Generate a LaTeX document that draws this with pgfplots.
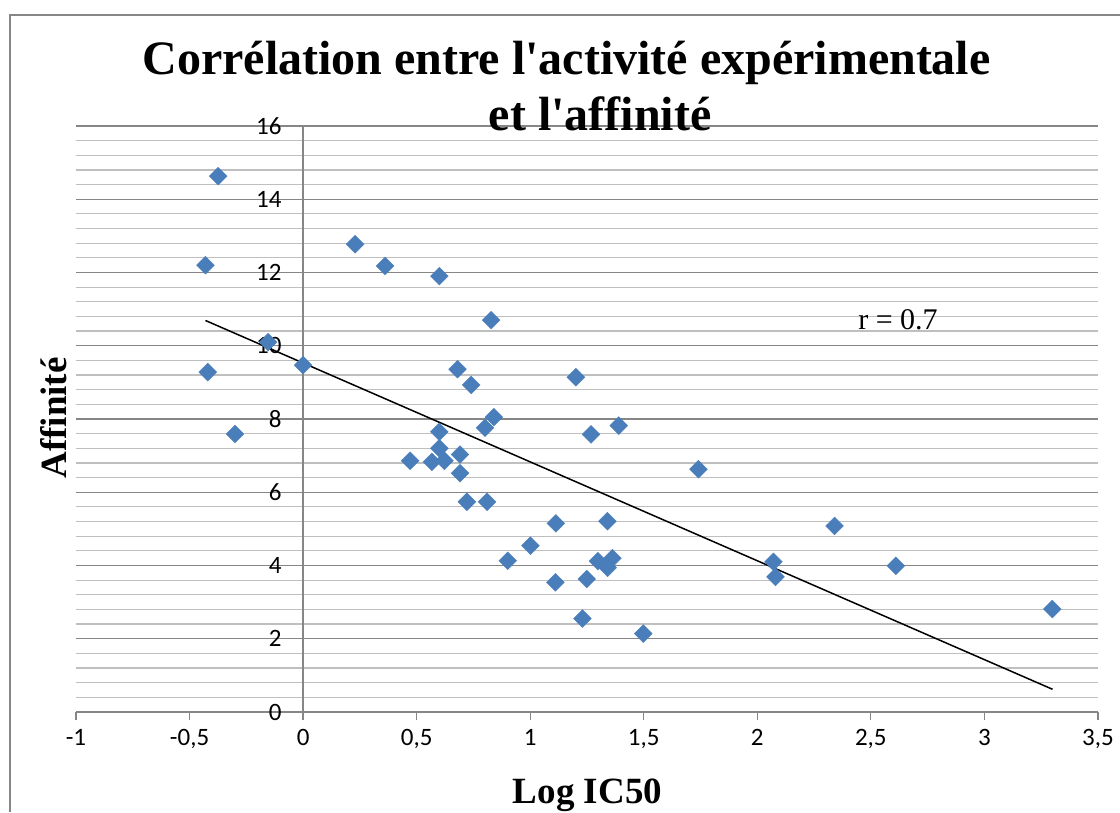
\documentclass[border=0pt]{standalone}
\usepackage{pgfplots}
\pgfplotsset{compat=1.18}
\usepackage{fontspec}
\setmainfont{Carlito}
\newfontfamily\tnr{Liberation Serif}
\definecolor{ptblue}{RGB}{74,126,187}
\definecolor{majg}{RGB}{134,134,134}
\definecolor{ming}{RGB}{191,191,191}
\newcommand{\tickfont}{\fontsize{25}{30}\selectfont}
\begin{document}
\begin{tikzpicture}
\useasboundingbox (0pt,0pt) rectangle (1120pt,812pt);
\draw[majg, line width=1.2pt] (10pt,0pt) -- (10pt,797pt) -- (1120pt,797pt);
\begin{axis}[
  at={(76pt,100pt)}, anchor=south west,
  scale only axis, width=1022pt, height=586pt,
  xmin=-1, xmax=3.5, ymin=0, ymax=16,
  axis lines=middle,
  axis line style={-, majg, line width=1.2pt},
  hide obscured x ticks=false, hide obscured y ticks=false,
  xtick={-1,-0.5,0,0.5,1,1.5,2,2.5,3,3.5},
  xticklabels={{-1},{-0,5},{0},{0,5},{1},{1,5},{2},{2,5},{3},{3,5}},
  ytick={0,2,4,6,8,10,12,14,16},
  yticklabels={0,2,4,6,8,10,12,14,16},
  minor y tick num=4,
  ymajorgrids, yminorgrids,
  major grid style={majg, line width=1.2pt},
  minor grid style={ming, line width=1.2pt},
  tick align=outside,
  major tick length=8pt, minor tick length=0pt,
  tick style={majg, line width=1.2pt},
  tick label style={font=\tickfont},
  xticklabel style={font=\tickfont, anchor=north, yshift=-6pt},
  yticklabel style={font=\tickfont, anchor=east, xshift=-10pt},
  clip=false,
]
\addplot[only marks, mark=square*, mark size=6.3pt,
  mark options={rotate=45, fill=ptblue, draw=ptblue}] coordinates {
(-0.374,14.63) (-0.43,12.2) (-0.42,9.28) (-0.30,7.59) (-0.154,10.1)
(0,9.47) (0.229,12.77) (0.361,12.18) (0.600,11.9) (0.828,10.70)
(0.680,9.36) (0.740,8.93) (1.201,9.14) (0.840,8.05) (0.801,7.76)
(0.600,7.65) (1.268,7.58) (1.390,7.82) (0.600,7.20) (0.691,7.03)
(0.471,6.86) (0.567,6.83) (0.622,6.86) (0.691,6.52) (1.741,6.63)
(0.721,5.74) (0.810,5.74) (1.113,5.15) (1.340,5.21) (1.001,4.54)
(0.901,4.13) (1.298,4.12) (1.362,4.20) (1.341,3.94) (1.111,3.54)
(1.249,3.63) (1.230,2.55) (1.498,2.14) (2.340,5.08) (2.071,4.10)
(2.080,3.69) (2.610,3.99) (3.299,2.81)
};
\addplot[black, line width=1.5pt] coordinates {(-0.43,10.69) (3.30,0.62)};
\end{axis}
\node[anchor=base, inner sep=0pt, font=\tnr\bfseries\fontsize{48}{56}\selectfont] at (566.5pt,737pt) {Corrélation entre l'activité expérimentale};
\node[anchor=base, inner sep=0pt, font=\tnr\bfseries\fontsize{48}{56}\selectfont] at (600pt,681pt) {et l'affinité};
\node[rotate=90, anchor=center, inner sep=0pt, font=\tnr\bfseries\fontsize{37}{44}\selectfont] at (53.5pt,394pt) {Affinité};
\node[anchor=base, inner sep=0pt, font=\tnr\bfseries\fontsize{37}{44}\selectfont] at (587.5pt,9pt) {Log IC50};
\node[anchor=base, inner sep=0pt, font=\tnr\fontsize{30}{36}\selectfont] at (898pt,482pt) {r = 0.7};
\end{tikzpicture}
\end{document}
